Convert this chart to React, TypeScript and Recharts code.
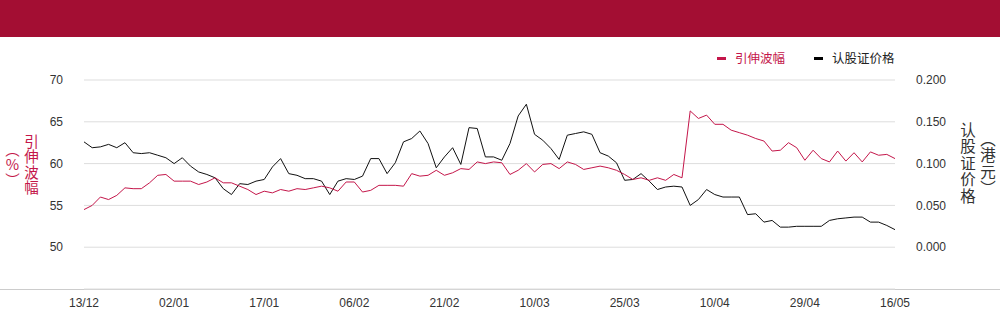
import React from 'react';
import { LineChart, Line, XAxis, YAxis, CartesianGrid } from 'recharts';

const RED = '#C4164A';
const BAND = '#A30E33';

// x tick labels, one every 11 trading days
const tickLabels = ['13/12', '02/01', '17/01', '06/02', '21/02', '10/03', '25/03', '10/04', '29/04', '16/05'];
const tickIdx = tickLabels.map((_, k) => k * 11);

// 引伸波幅 (%)
const vol = [
  54.5, 55.0, 56.0, 55.7, 56.2, 57.1, 57.0, 57.0, 57.7, 58.6, 58.7, 57.9, 57.9, 57.9, 57.5, 57.8, 58.3, 57.7, 57.7, 57.3,
  56.9, 56.3, 56.7, 56.5, 56.9, 56.7, 57.0, 56.9, 57.1, 57.3, 57.1, 56.7, 57.8, 57.8, 56.6, 56.8, 57.4, 57.4, 57.4, 57.3,
  58.8, 58.5, 58.6, 59.2, 58.6, 58.9, 59.4, 59.3, 60.2, 60.0, 60.2, 60.1, 58.7, 59.2, 60.0, 59.0, 59.9, 60.0, 59.4, 60.2,
  59.9, 59.3, 59.5, 59.7, 59.5, 59.2, 58.7, 58.1, 58.3, 58.0, 58.3, 58.0, 58.7, 58.3, 66.3, 65.4, 65.8, 64.7, 64.7, 64.0,
  63.7, 63.4, 63.0, 62.7, 61.5, 61.6, 62.5, 61.9, 60.4, 61.6, 60.6, 60.2, 61.5, 60.3, 61.3, 60.2, 61.4, 61.0, 61.1, 60.6,
];

// 认股证价格 (港元)
const price = [
  0.126, 0.119, 0.120, 0.123, 0.119, 0.125, 0.113, 0.112, 0.113, 0.110, 0.107, 0.100, 0.107, 0.097, 0.090, 0.087, 0.083, 0.070, 0.063, 0.076,
  0.075, 0.079, 0.081, 0.096, 0.106, 0.088, 0.086, 0.082, 0.082, 0.079, 0.063, 0.079, 0.082, 0.081, 0.085, 0.106, 0.106, 0.088, 0.101, 0.126,
  0.130, 0.139, 0.124, 0.095, 0.108, 0.119, 0.099, 0.143, 0.142, 0.108, 0.108, 0.104, 0.124, 0.157, 0.171, 0.135, 0.128, 0.118, 0.105, 0.134,
  0.136, 0.138, 0.135, 0.113, 0.109, 0.101, 0.080, 0.081, 0.088, 0.079, 0.069, 0.072, 0.073, 0.072, 0.050, 0.057, 0.069, 0.063, 0.060, 0.060,
  0.060, 0.039, 0.040, 0.030, 0.032, 0.024, 0.024, 0.025, 0.025, 0.025, 0.025, 0.032, 0.034, 0.035, 0.036, 0.036, 0.030, 0.030, 0.026, 0.021,
];

const volTicks = [50, 55, 60, 65, 70];
const priceTicks = [0, 0.05, 0.1, 0.15, 0.2];

const data = vol.map((v, i) => ({ i, vol: v, price: price[i] }));

const tickFont = { fontSize: 12, fill: '#333', fontFamily: '"Liberation Sans", Arial, sans-serif' };
const cjk = '"Noto Sans CJK SC", sans-serif';

// one vertical column of text
const VText = ({ text, left, top, size, gap, color }: { text: string; left: number; top: number; size: number; gap: number; color: string }) => (
  <div
    style={{
      position: 'absolute', left, top, width: 18, lineHeight: '18px',
      writingMode: 'vertical-rl', textOrientation: 'upright',
      fontFamily: cjk, fontSize: size, letterSpacing: gap, color, whiteSpace: 'nowrap',
    }}
  >
    {text}
  </div>
);

export default function App() {
  return (
    <div style={{ position: 'absolute', left: 0, top: 0, width: 1000, height: 324, background: '#fff', overflow: 'hidden' }}>
      <div style={{ position: 'absolute', left: 0, top: 0, width: 1000, height: 37, background: BAND }} />
      <div style={{ position: 'absolute', left: 0, top: 289, width: 1000, height: 1, background: '#ccc' }} />

      {/* legend */}
      <div style={{ position: 'absolute', top: 49, left: 717, display: 'flex', alignItems: 'center', fontFamily: cjk, fontSize: 12.5, lineHeight: '18px' }}>
        <span style={{ width: 9, height: 3, background: RED, marginRight: 9 }} />
        <span style={{ color: RED }}>引伸波幅</span>
        <span style={{ width: 9, height: 3, background: '#000', marginLeft: 29, marginRight: 9 }} />
        <span style={{ color: '#222' }}>认股证价格</span>
      </div>

      {/* axis titles */}
      <VText text="引伸波幅" left={22} top={134} size={14.5} gap={1} color={RED} />
      <VText text="︵%︶" left={3} top={142} size={14.5} gap={1} color={RED} />
      <VText text="认股证价格" left={959} top={122} size={15.5} gap={1} color="#333" />
      <VText text="︵港元︶" left={979} top={131} size={15.5} gap={1} color="#333" />

      <div style={{ position: 'absolute', left: 0, top: 0 }}>
        <LineChart width={1000} height={324} data={data} margin={{ top: 80, right: 0, bottom: 0, left: 24 }}>
          <CartesianGrid yAxisId="left" vertical={false} stroke="#ddd" />
          <XAxis
            dataKey="i"
            type="number"
            domain={[0, 99]}
            ticks={tickIdx}
            tickFormatter={(v: number) => tickLabels[Math.round(v / 11)]}
            axisLine={false}
            tickLine={false}
            tickMargin={3}
            height={35}
            tick={tickFont}
          />
          <YAxis
            yAxisId="left"
            orientation="left"
            domain={[45, 70]}
            ticks={volTicks}
            axisLine={false}
            tickLine={false}
            tickMargin={15}
            width={60}
            tick={tickFont}
          />
          <YAxis
            yAxisId="right"
            orientation="right"
            domain={[-0.05, 0.2]}
            ticks={priceTicks}
            tickFormatter={(v: number) => v.toFixed(3)}
            axisLine={false}
            tickLine={false}
            tickMargin={15}
            width={105}
            tick={{ ...tickFont, textAnchor: 'start' }}
          />
          <Line yAxisId="right" dataKey="price" stroke="#111" strokeWidth={1} dot={false} isAnimationActive={false} />
          <Line yAxisId="left" dataKey="vol" stroke={RED} strokeWidth={1} dot={false} isAnimationActive={false} />
        </LineChart>
      </div>
    </div>
  );
}
